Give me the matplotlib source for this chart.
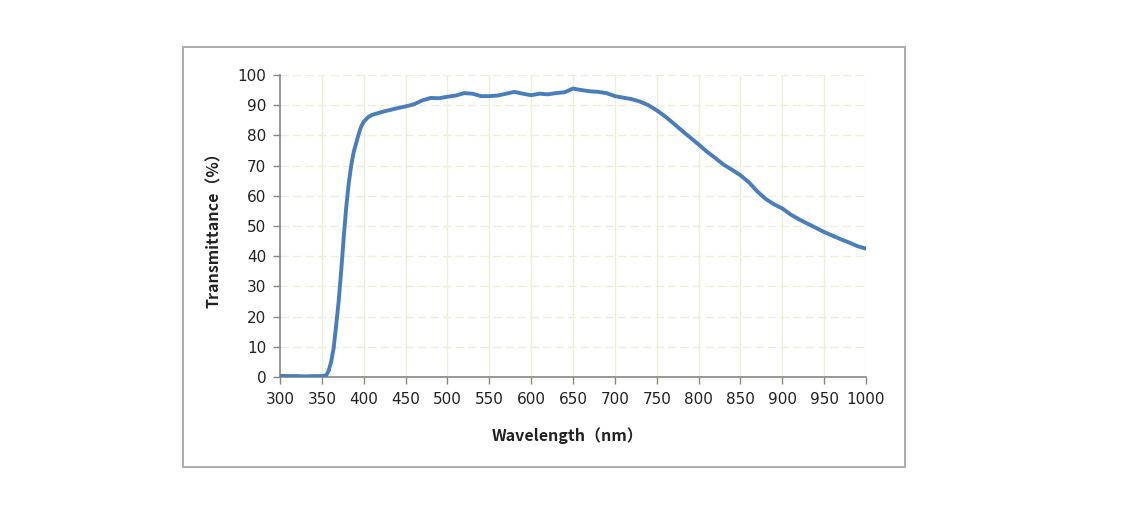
import numpy as np
import matplotlib
matplotlib.use('Agg')
import matplotlib.pyplot as plt
from matplotlib.patches import Rectangle

wavelength = [300, 310, 320, 330, 340, 350, 355, 358, 361, 364, 367, 370, 373, 376, 379,
              382, 385, 388, 391, 394, 397, 400, 405, 410, 415, 420, 425, 430, 440, 450,
              460, 470, 480, 490, 500, 510, 520, 530, 540, 550, 560, 570, 580, 590, 600,
              610, 620, 630, 640, 650, 660, 670, 680, 690, 700, 710, 720, 730, 740, 750,
              760, 770, 780, 790, 800, 810, 820, 830, 840, 850, 860, 870, 880, 890, 900,
              910, 920, 930, 940, 950, 960, 970, 980, 990, 1000]
transmittance = [0.4, 0.3, 0.3, 0.2, 0.3, 0.3, 0.5, 2.0, 5.0, 9.5, 17.0, 25.0, 35.0, 46.0, 56.0,
                 64.0, 70.0, 74.5, 77.5, 80.5, 83.0, 84.5, 86.0, 86.8, 87.2, 87.6, 88.0, 88.3, 89.0, 89.6,
                 90.3, 91.6, 92.4, 92.3, 92.8, 93.2, 94.0, 93.8, 93.0, 93.0, 93.2, 93.8, 94.4, 93.8, 93.3,
                 93.8, 93.6, 94.0, 94.3, 95.5, 95.0, 94.6, 94.4, 94.0, 93.0, 92.5, 92.0, 91.2, 90.0, 88.3,
                 86.3, 84.0, 81.6, 79.3, 77.0, 74.6, 72.5, 70.3, 68.6, 66.8, 64.5, 61.5, 59.0, 57.2, 55.8,
                 53.8, 52.2, 50.8, 49.4, 48.0, 46.8, 45.6, 44.5, 43.3, 42.5]
x_ticks = list(range(300, 1001, 50))
y_ticks = list(range(0, 101, 10))

plt.rcParams['font.family'] = 'DejaVu Sans'

fig = plt.figure(figsize=(11.22, 5.15), dpi=100)
ax = fig.add_axes([0.2496, 0.268, 0.5222, 0.5864])

# outer frame around the chart
fig.patches.append(Rectangle((0.1631, 0.0932), 0.6435, 0.8155, transform=fig.transFigure,
                             fill=False, edgecolor='#a6a6a6', linewidth=1.3))

grid_color = '#ecefd9'
for xv in x_ticks[1:]:
    ax.axvline(xv, color=grid_color, linewidth=1.0, zorder=0)
for yv in y_ticks[1:]:
    ax.axhline(yv, color=grid_color, linewidth=1.0, linestyle=(0, (6, 3)), zorder=0)

ax.plot(wavelength, transmittance, color='#4a7ebb', linewidth=2.8, zorder=3)

ax.set_xlim(300, 1000)
ax.set_ylim(0, 100)
ax.set_xticks(x_ticks)
ax.set_yticks(y_ticks)
ax.tick_params(axis='both', direction='out', length=5, width=1, color='#868686',
               labelsize=11, labelcolor='#222222')
ax.tick_params(axis='x', pad=6)
ax.tick_params(axis='y', pad=5)
for s in ['top', 'right']:
    ax.spines[s].set_visible(False)
for s in ['left', 'bottom']:
    ax.spines[s].set_color('#868686')
    ax.spines[s].set_linewidth(1.2)

lab_font = ['Noto Sans CJK SC', 'DejaVu Sans']
ax.set_xlabel('Wavelength（nm）', family=lab_font, fontweight='bold', fontsize=11.5, color='#222222')
ax.set_ylabel('Transmittance（%）', family=lab_font, fontweight='bold', fontsize=11.5, color='#222222')
ax.xaxis.set_label_coords(0.49, -0.165)
ax.yaxis.set_label_coords(-0.1, 0.5)

fig.savefig('out.png', dpi=100, facecolor='white')
